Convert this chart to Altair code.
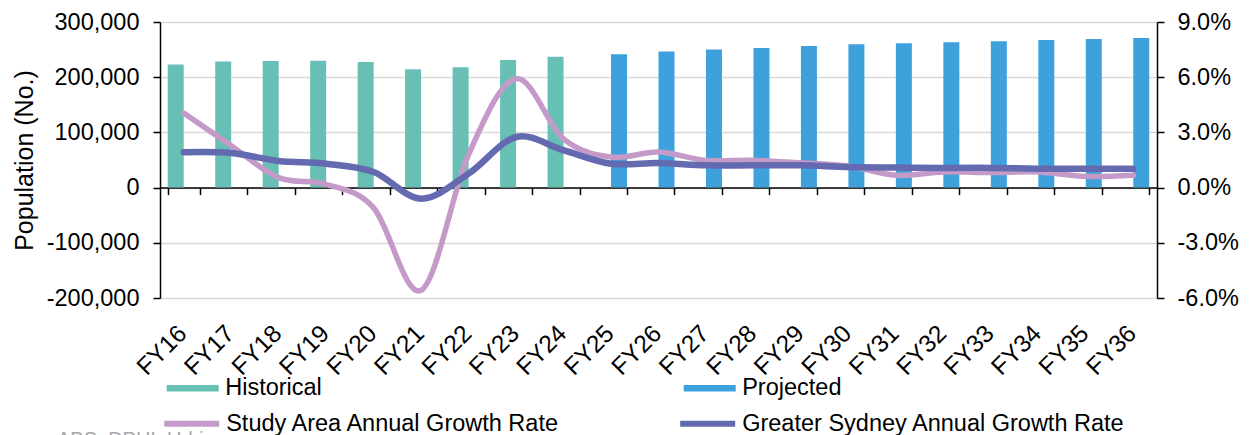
import altair as alt
import pandas as pd

years = ["FY16", "FY17", "FY18", "FY19", "FY20", "FY21", "FY22", "FY23", "FY24", "FY25", "FY26",
         "FY27", "FY28", "FY29", "FY30", "FY31", "FY32", "FY33", "FY34", "FY35", "FY36"]
population = [223000, 228300, 229300, 230000, 227500, 214500, 218000, 231000, 237000, 241500, 246400,
              250000, 252900, 256500, 259600, 261400, 263200, 265000, 267400, 269200, 271000]
period = ["Historical"] * 9 + ["Projected"] * 12
study_growth = [0.0405, 0.0228, 0.0054, 0.0018, -0.0110, -0.0558, 0.0180, 0.0592, 0.0265, 0.0166, 0.0193,
                0.0148, 0.0148, 0.0135, 0.0117, 0.0067, 0.0085, 0.0082, 0.0085, 0.0061, 0.0067]
sydney_growth = [0.0192, 0.0188, 0.0145, 0.0130, 0.0085, -0.0060, 0.0076, 0.0275, 0.0203, 0.0130, 0.0134,
                 0.0121, 0.0121, 0.0121, 0.0112, 0.0109, 0.0107, 0.0107, 0.0103, 0.0103, 0.0103]
bar_series = ["Historical", "Projected"]
bar_colors = ["#68C0B4", "#3EA1DC"]
line_series = ["Study Area Annual Growth Rate", "Greater Sydney Annual Growth Rate"]
line_colors = ["#C49AC8", "#636AB0"]
left_ticks = [-200000, -100000, 0, 100000, 200000, 300000]
right_ticks = [-0.06, -0.03, 0.0, 0.03, 0.06, 0.09]
source_text = ["ABS, DPHI, Urbis"]

FONT = "Liberation Sans"
FS = 23.5
MINUS = "\u2212"

bar_df = pd.DataFrame({"year": years, "population": population, "period": period})
line_df = pd.DataFrame({
    "year": years + years,
    "growth": study_growth + sydney_growth,
    "series": [line_series[0]] * len(years) + [line_series[1]] * len(years),
})
src_df = pd.DataFrame({"text": source_text})

x_enc = alt.X(
    "year:N",
    sort=years,
    scale=alt.Scale(domain=years, paddingInner=0.326, paddingOuter=0.163),
    axis=alt.Axis(
        title=None, offset=-110.4, tickBand="extent", tickSize=7, tickColor="black", tickWidth=1.5,
        domainColor="black", domainWidth=1.5, labelAngle=315, labelAlign="right", labelBaseline="middle",
        labelPadding=135, labelOffset=-1, labelFontSize=24.5, labelColor="black", labelFont=FONT,
        labelOverlap=False, labelBound=False, labelFlush=False, grid=False,
    ),
)

bars = alt.Chart(bar_df).mark_bar().encode(
    x=x_enc,
    xOffset=alt.XOffset("period:N", scale=alt.Scale(domain=bar_series, paddingInner=0, paddingOuter=0)),
    y=alt.Y(
        "population:Q",
        scale=alt.Scale(domain=[-200000, 300000], nice=False, zero=False),
        axis=alt.Axis(
            values=left_ticks,
            labelExpr=f"replace(format(datum.value, ','), '{MINUS}', '-')",
            title="Population (No.)", titleFontSize=25, titleFont=FONT, titleFontWeight="normal",
            titleColor="black", titlePadding=9, labelFontSize=FS, labelFont=FONT, labelColor="black",
            labelPadding=14, tickSize=7, tickColor="black", tickWidth=1.5, domainColor="black",
            domainWidth=1.5, grid=True, gridColor="#D9D9D9", gridWidth=1.3,
        ),
    ),
    color=alt.Color(
        "period:N",
        scale=alt.Scale(domain=bar_series, range=bar_colors),
        legend=alt.Legend(
            title=None, orient="none", legendX=6.7, legendY=340, direction="horizontal", columns=2,
            columnPadding=361, symbolType="M-1,-0.125H1V0.125H-1Z", symbolSize=2704,
            symbolStrokeWidth=0, symbolOpacity=1, labelFontSize=FS, labelFont=FONT,
            labelColor="black", labelOffset=6.5, labelLimit=0,
        ),
    ),
)

lines = alt.Chart(line_df).mark_line(interpolate="cardinal", strokeCap="round").encode(
    x=x_enc,
    y=alt.Y(
        "growth:Q",
        scale=alt.Scale(domain=[-0.06, 0.09], nice=False, zero=False),
        axis=alt.Axis(
            orient="right", values=right_ticks,
            labelExpr=f"replace(format(datum.value, '.1%'), '{MINUS}', '-')", title=None,
            labelFontSize=FS, labelFont=FONT, labelColor="black", labelPadding=13,
            tickSize=7, tickColor="black", tickWidth=1.5, domainColor="black", domainWidth=1.5, grid=False,
        ),
    ),
    color=alt.Color(
        "series:N",
        sort=line_series,
        scale=alt.Scale(domain=line_series, range=line_colors),
        legend=alt.Legend(
            title=None, orient="none", legendX=1.2, legendY=371, direction="horizontal", columns=2,
            columnPadding=107, symbolType="stroke", symbolSize=3025, symbolStrokeWidth=6,
            labelFontSize=FS, labelFont=FONT, labelColor="black", labelOffset=4, labelLimit=0,
        ),
    ),
    strokeWidth=alt.StrokeWidth(
        "series:N", scale=alt.Scale(domain=line_series, range=[5.5, 6.5]), legend=None
    ),
)

source = alt.Chart(src_df).mark_text(
    align="left", baseline="top", fontSize=20, font=FONT, color="#A6A6A6"
).encode(
    text="text:N",
    x=alt.value(-103),
    y=alt.value(408),
)

chart = alt.layer(bars, lines, source).resolve_scale(
    y="independent", color="independent"
).properties(
    width=997, height=276, autosize=alt.AutoSizeParams(type="none"),
    padding={"left": 160, "top": 22, "right": 93, "bottom": 137},
    background="white",
).configure(font=FONT).configure_view(stroke=None)

chart.save("out.html", embed_options={"renderer": "svg", "actions": False})
